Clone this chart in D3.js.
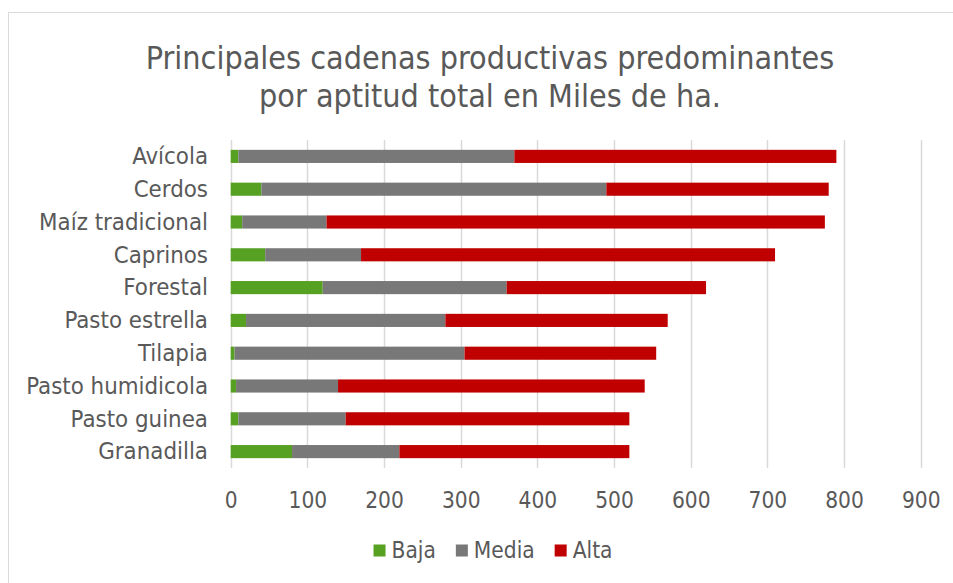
<!DOCTYPE html>
<html>
<head>
<meta charset="utf-8">
<script src="https://cdn.jsdelivr.net/npm/d3@7"></script>
<style>
  body { margin: 0; background: #fff; }
  svg text { font-family: "DejaVu Sans Condensed", "DejaVu Sans", sans-serif; font-stretch: condensed; fill: #595959; }
</style>
</head>
<body>
<div id="chart"></div>
<script>
const categories = ["Avícola", "Cerdos", "Maíz tradicional", "Caprinos", "Forestal",
  "Pasto estrella", "Tilapia", "Pasto humidicola", "Pasto guinea", "Granadilla"];
const baja = [10, 40, 15, 45, 120, 20, 5, 7, 10, 80];
const media = [360, 450, 110, 125, 240, 260, 300, 133, 140, 140];
const alta = [420, 290, 650, 540, 260, 290, 250, 400, 370, 300];
const seriesNames = ["Baja", "Media", "Alta"];
const colors = ["#56a022", "#787878", "#c00000"];
const xTicks = [0, 100, 200, 300, 400, 500, 600, 700, 800, 900];
const titleLines = ["Principales cadenas productivas predominantes", "por aptitud total en Miles de ha."];

const W = 953, H = 583;
const svg = d3.select("#chart").append("svg").attr("width", W).attr("height", H);

// chart frame
svg.append("rect").attr("x", 8.5).attr("y", 12.5).attr("width", 1000).attr("height", 1000)
  .attr("fill", "#fff").attr("stroke", "#d9d9d9").attr("stroke-width", 1);

const x = d3.scaleLinear().domain([0, 900]).range([230.7, 920.7]);
const y = d3.scaleBand().domain(categories).range([140, 468]).paddingInner(0.6).paddingOuter(0.3);

// title
svg.append("text").attr("x", 490).attr("y", 69).attr("text-anchor", "middle")
  .style("font-size", "32px")
  .selectAll("tspan").data(titleLines).join("tspan")
  .attr("x", 490).attr("dy", (d, i) => i ? 38 : 0).text(d => d);

// gridlines
svg.append("g").selectAll("line").data(xTicks).join("line")
  .attr("x1", d => Math.round(x(d)) + 0.5).attr("x2", d => Math.round(x(d)) + 0.5)
  .attr("y1", 140).attr("y2", 468)
  .attr("stroke", "#d9d9d9").attr("stroke-width", 1.5);

// stacked bars
const rows = categories.map((c, i) => ({ cat: c, Baja: baja[i], Media: media[i], Alta: alta[i] }));
const stacked = d3.stack().keys(seriesNames)(rows);
svg.append("g").selectAll("g").data(stacked).join("g")
  .attr("fill", (d, i) => colors[i])
  .selectAll("rect").data(d => d).join("rect")
  .attr("x", d => x(d[0])).attr("width", d => x(d[1]) - x(d[0]))
  .attr("y", d => y(d.data.cat)).attr("height", y.bandwidth());

// x axis labels
const xAxis = svg.append("g").attr("transform", "translate(0,468)")
  .call(d3.axisBottom(x).tickValues(xTicks).tickSize(0).tickPadding(0));
xAxis.select(".domain").remove();
xAxis.selectAll("text").attr("dy", 0).attr("y", 40).style("font-size", "22.5px").attr("fill", "#595959");

// y axis labels
const yAxis = svg.append("g").attr("transform", "translate(208,0)")
  .call(d3.axisLeft(y).tickSize(0).tickPadding(0));
yAxis.select(".domain").remove();
yAxis.selectAll("text").attr("x", 0).attr("dy", "0.33em").style("font-size", "23.8px").attr("fill", "#595959");

// legend
const legend = svg.append("g");
const items = legend.selectAll("g").data(seriesNames).join("g");
items.append("rect").attr("width", 12).attr("height", 12).attr("y", 544.5)
  .attr("fill", (d, i) => colors[i]);
items.append("text").attr("x", 18).attr("y", 558).style("font-size", "22.5px").text(d => d);
let cx = 0;
items.each(function () {
  const g = d3.select(this);
  g.attr("transform", `translate(${cx},0)`);
  cx += 18 + g.select("text").node().getComputedTextLength() + 20;
});
const total = cx - 20;
legend.attr("transform", `translate(${493 - total / 2},0)`);
</script>
</body>
</html>
